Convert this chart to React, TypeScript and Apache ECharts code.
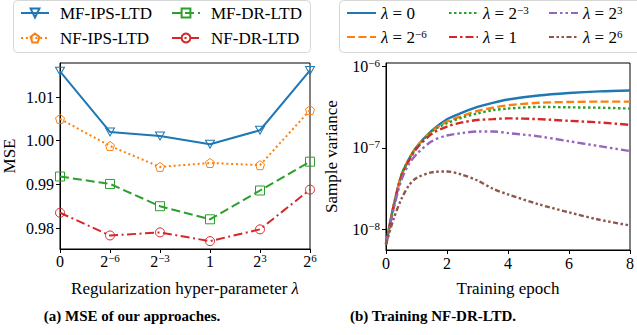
import React, { useEffect, useRef } from "react";
import * as echarts from "echarts";

// ---------- Data: left panel ----------
const lambdaCats = ["0", "2^-6", "2^-3", "1", "2^3", "2^6"];
const lambdaTickLabels = ["0", "2{sup|−6}", "2{sup|−3}", "1", "2{sup|3}", "2{sup|6}"];
const mfIpsLtd = [1.0159, 1.002, 1.0011, 0.9992, 1.0024, 1.0161];
const nfIpsLtd = [1.005, 0.9988, 0.994, 0.9949, 0.9944, 1.007];
const mfDrLtd = [0.9918, 0.9901, 0.985, 0.982, 0.9886, 0.9952];
const nfDrLtd = [0.9835, 0.9783, 0.979, 0.977, 0.9797, 0.9888];
const mseTicks = [0.98, 0.99, 1.0, 1.01];

// ---------- Data: right panel (log10 of sample variance) ----------
const epochs = [0, 0.25, 0.5, 0.75, 1, 1.5, 2, 2.5, 3, 3.5, 4, 5, 6, 7, 8];
const lam0 = [-8.18, -7.71, -7.34, -7.14, -6.99, -6.79, -6.65, -6.57, -6.5, -6.45, -6.41, -6.36, -6.33, -6.31, -6.3];
const lamM6 = [-8.18, -7.71, -7.34, -7.14, -6.99, -6.8, -6.68, -6.61, -6.55, -6.51, -6.48, -6.45, -6.44, -6.435, -6.435];
const lamM3 = [-8.18, -7.71, -7.34, -7.14, -7.0, -6.8, -6.7, -6.63, -6.58, -6.54, -6.52, -6.5, -6.505, -6.51, -6.52];
const lam1 = [-8.18, -7.72, -7.36, -7.16, -7.01, -6.83, -6.74, -6.69, -6.66, -6.65, -6.64, -6.65, -6.67, -6.69, -6.72];
const lamP3 = [-8.18, -7.75, -7.4, -7.2, -7.08, -6.92, -6.85, -6.82, -6.8, -6.8, -6.82, -6.86, -6.92, -6.98, -7.04];
const lamP6 = [-8.18, -7.87, -7.63, -7.46, -7.37, -7.3, -7.29, -7.33, -7.4, -7.5, -7.57, -7.69, -7.79, -7.88, -7.95];
const varTicks = [1e-8, 1e-7, 1e-6];

const FONT = "'Liberation Serif', 'Times New Roman', serif";
const C = ["#1f77b4", "#ff7f0e", "#2ca02c", "#d62728", "#9467bd", "#8c564b"];

const supRich = {
  sup: { fontSize: 11, lineHeight: 11, verticalAlign: "top", fontFamily: FONT, color: "#000" },
  i: { fontStyle: "italic", fontSize: 17, lineHeight: 18, fontFamily: FONT, color: "#000" },
};

const TRI_DOWN = "path://M0,0 L10,0 L5,8.66 Z";
const PENTAGON = "path://M5,0 L10,3.8 L8.1,10 L1.9,10 L0,3.8 Z";

export default function App() {
  const ref = useRef<HTMLDivElement>(null);
  useEffect(() => {
    if (!ref.current) return;
    const chart = echarts.init(ref.current, undefined, { renderer: "svg" });

    const leftSeries = [
      { name: "MF-IPS-LTD", data: mfIpsLtd, color: C[0], type: "solid", symbol: TRI_DOWN, size: [9, 8] },
      { name: "NF-IPS-LTD", data: nfIpsLtd, color: C[1], type: [2, 2.8], symbol: PENTAGON, size: [9, 9] },
      { name: "MF-DR-LTD", data: mfDrLtd, color: C[2], type: [9, 4], symbol: "rect", size: [9, 9] },
      { name: "NF-DR-LTD", data: nfDrLtd, color: C[3], type: [9, 3.5, 2, 3.5], symbol: "circle", size: [9, 9] },
    ].map((s) => ({
      name: s.name,
      type: "line",
      xAxisIndex: 0,
      yAxisIndex: 0,
      data: s.data,
      symbol: s.symbol,
      symbolSize: s.size,
      showAllSymbol: true,
      clip: false,
      lineStyle: { color: s.color, width: 2, type: s.type, cap: "butt" },
      itemStyle: { color: "transparent", borderColor: s.color, borderWidth: 1 },
      z: 3,
    }));

    const rightDefs = [
      { name: "l0", data: lam0, color: C[0], type: "solid" },
      { name: "lm6", data: lamM6, color: C[1], type: [8, 3.5] },
      { name: "lm3", data: lamM3, color: C[2], type: [2.5, 2.5] },
      { name: "l1", data: lam1, color: C[3], type: [8, 3, 2.5, 3] },
      { name: "lp3", data: lamP3, color: C[4], type: [8, 3, 2.5, 3, 2.5, 3] },
      { name: "lp6", data: lamP6, color: C[5], type: [5, 2.5, 2.5, 2.5, 2.5, 2.5] },
    ];
    const rightLabels: Record<string, string> = {
      l0: "{i|λ} = 0",
      lm6: "{i|λ} = 2{sup|−6}",
      lm3: "{i|λ} = 2{sup|−3}",
      l1: "{i|λ} = 1",
      lp3: "{i|λ} = 2{sup|3}",
      lp6: "{i|λ} = 2{sup|6}",
    };
    const rightSeries = rightDefs.map((s) => ({
      name: s.name,
      type: "line",
      xAxisIndex: 1,
      yAxisIndex: 1,
      data: epochs.map((e, i) => [e, Math.pow(10, s.data[i])]),
      symbol: "none",
      smooth: 0.3,
      lineStyle: { color: s.color, width: 2.4, type: s.type, cap: "butt" },
      itemStyle: { color: s.color },
    }));

    const legendText = { fontFamily: FONT, fontSize: 17, lineHeight: 18, color: "#000", rich: supRich };
    const leftLegendCommon = {
      orient: "vertical",
      top: 4,
      padding: 0,
      itemGap: 7,
      itemWidth: 28,
      itemHeight: 11,
      textStyle: { ...legendText, padding: [0, 0, 0, 6] },
      selectedMode: false,
    };
    const rightLegendCommon = {
      orient: "vertical",
      top: 4,
      padding: 0,
      itemGap: 6,
      itemWidth: 29,
      itemHeight: 11,
      textStyle: legendText,
      itemStyle: { opacity: 0 },
      formatter: (n: string) => rightLabels[n],
      selectedMode: false,
    };

    const axisLineStyle = { show: true, lineStyle: { color: "#000", width: 1 } };
    const tickStyle = { show: true, inside: false, length: 4, lineStyle: { color: "#000", width: 1 } };

    chart.setOption({
      animation: false,
      backgroundColor: "#fff",
      textStyle: { fontFamily: FONT },
      legend: [
        { ...leftLegendCommon, left: 20, data: ["MF-IPS-LTD", "NF-IPS-LTD"] },
        { ...leftLegendCommon, left: 171, data: ["MF-DR-LTD", "NF-DR-LTD"] },
        { ...rightLegendCommon, left: 346, data: ["l0", "lm6"] },
        { ...rightLegendCommon, left: 448, data: ["lm3", "l1"] },
        { ...rightLegendCommon, left: 548, data: ["lp3", "lp6"] },
      ],
      grid: [
        { left: 59, top: 63, width: 251, height: 186, show: true, borderColor: "#000", borderWidth: 1, containLabel: false },
        { left: 386, top: 63, width: 251, height: 187, show: true, borderColor: "#000", borderWidth: 1, containLabel: false },
      ],
      xAxis: [
        {
          type: "category",
          gridIndex: 0,
          data: lambdaCats,
          boundaryGap: false,
          axisLine: axisLineStyle,
          axisTick: { ...tickStyle, alignWithLabel: true },
          splitLine: { show: false },
          axisLabel: {
            margin: 3,
            fontFamily: FONT,
            fontSize: 16,
            lineHeight: 18,
            color: "#000",
            verticalAlign: "top",
            interval: 0,
            formatter: (_v: string, i: number) => lambdaTickLabels[i],
            rich: supRich,
          },
          name: "Regularization hyper-parameter {i|λ}",
          nameLocation: "middle",
          nameGap: 30,
          nameTextStyle: { fontFamily: FONT, fontSize: 17, color: "#000", rich: supRich },
        },
        {
          type: "value",
          gridIndex: 1,
          min: 0,
          max: 8,
          interval: 2,
          axisLine: axisLineStyle,
          axisTick: tickStyle,
          splitLine: { show: false },
          axisLabel: { margin: 5, fontFamily: FONT, fontSize: 16, color: "#000" },
          name: "Training epoch",
          nameLocation: "middle",
          nameGap: 30,
          nameTextStyle: { fontFamily: FONT, fontSize: 17, color: "#000" },
        },
      ],
      yAxis: [
        {
          type: "value",
          gridIndex: 0,
          min: 0.9752,
          max: 1.0178,
          axisLine: axisLineStyle,
          axisTick: { ...tickStyle, customValues: mseTicks },
          splitLine: { show: false },
          axisLabel: {
            customValues: mseTicks,
            margin: 6,
            fontFamily: FONT,
            fontSize: 16,
            color: "#000",
            formatter: (v: number) => v.toFixed(2),
          },
          name: "MSE",
          nameLocation: "middle",
          nameGap: 42,
          nameTextStyle: { fontFamily: FONT, fontSize: 17, color: "#000" },
        },
        {
          type: "log",
          logBase: 10,
          gridIndex: 1,
          min: Math.pow(10, -8.25),
          max: Math.pow(10, -5.963),
          axisLine: axisLineStyle,
          axisTick: { ...tickStyle, customValues: varTicks },
          minorTick: { show: false },
          splitLine: { show: false },
          axisLabel: {
            customValues: varTicks,
            margin: 6,
            fontFamily: FONT,
            fontSize: 16,
            lineHeight: 18,
            color: "#000",
            formatter: (v: number) => "10{sup|−" + Math.round(-Math.log10(v)) + "}",
            rich: supRich,
          },
          name: "Sample variance",
          nameLocation: "middle",
          nameGap: 46,
          nameTextStyle: { fontFamily: FONT, fontSize: 17, color: "#000" },
        },
      ],
      graphic: [
        {
          type: "rect",
          z: 0,
          shape: { x: 13.5, y: 0.5, width: 297, height: 52, r: 4 },
          style: { fill: "#fff", stroke: "#d6d6d6", lineWidth: 1 },
        },
        {
          type: "rect",
          z: 0,
          shape: { x: 339.5, y: 0.5, width: 320, height: 52, r: 4 },
          style: { fill: "#fff", stroke: "#d6d6d6", lineWidth: 1 },
        },
        {
          type: "text",
          x: 132,
          y: 316,
          style: {
            text: "(a) MSE of our approaches.",
            fontFamily: FONT,
            fontWeight: "bold",
            fontSize: 15,
            fill: "#000",
            align: "center",
            verticalAlign: "middle",
          },
        },
        {
          type: "text",
          x: 433,
          y: 316,
          style: {
            text: "(b) Training NF-DR-LTD.",
            fontFamily: FONT,
            fontWeight: "bold",
            fontSize: 15,
            fill: "#000",
            align: "center",
            verticalAlign: "middle",
          },
        },
      ],
      series: [...leftSeries, ...rightSeries],
    });
    return () => chart.dispose();
  }, []);
  return <div ref={ref} style={{ position: "fixed", left: 0, top: 0, width: 637, height: 335 }} />;
}
